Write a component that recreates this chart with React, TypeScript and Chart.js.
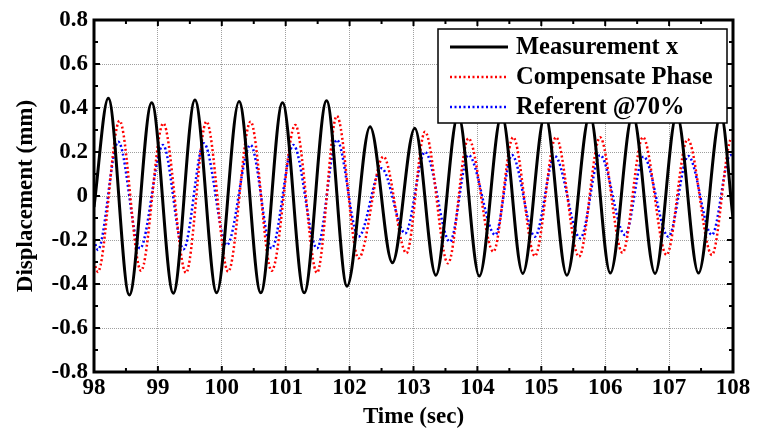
import React, { useEffect, useRef } from "react";
import { Chart, registerables } from "chart.js";

Chart.register(...registerables);

// ---- Data (extrema of each oscillation) ----
const measurementT = [98, 98.224, 98.553, 98.903, 99.241, 99.58, 99.92, 100.27, 100.61, 100.95, 101.29, 101.64, 101.96, 102.32, 102.67, 103.02, 103.35, 103.70, 104.03, 104.38, 104.71, 105.06, 105.40, 105.76, 106.08, 106.43, 106.78, 107.12, 107.46, 107.81, 108];
const measurementV = [-0.05, 0.444, -0.45, 0.424, -0.442, 0.436, -0.44, 0.43, -0.44, 0.424, -0.44, 0.433, -0.41, 0.315, -0.303, 0.308, -0.36, 0.37, -0.364, 0.37, -0.352, 0.37, -0.36, 0.37, -0.35, 0.37, -0.352, 0.37, -0.35, 0.37, -0.1];

const compensateT = [98, 98.06, 98.40, 98.735, 99.085, 99.44, 99.76, 100.10, 100.45, 100.78, 101.15, 101.49, 101.80, 102.14, 102.53, 102.89, 103.18, 103.54, 103.86, 104.25, 104.56, 104.90, 105.23, 105.59, 105.92, 106.27, 106.59, 106.96, 107.29, 107.67, 107.98, 108];
const compensateV = [-0.30, -0.345, 0.342, -0.34, 0.33, -0.349, 0.338, -0.344, 0.338, -0.34, 0.323, -0.349, 0.364, -0.283, 0.179, -0.26, 0.292, -0.306, 0.262, -0.253, 0.267, -0.273, 0.267, -0.276, 0.267, -0.258, 0.267, -0.268, 0.258, -0.268, 0.262, 0.26];

const referentT = [98, 98.06, 98.38, 98.72, 99.08, 99.40, 99.72, 100.08, 100.45, 100.78, 101.12, 101.49, 101.80, 102.14, 102.50, 102.87, 103.18, 103.57, 103.86, 104.28, 104.54, 104.90, 105.21, 105.61, 105.92, 106.31, 106.60, 106.99, 107.30, 107.67, 107.96, 108];
const referentV = [-0.20, -0.245, 0.247, -0.238, 0.232, -0.242, 0.24, -0.223, 0.232, -0.238, 0.232, -0.238, 0.255, -0.185, 0.126, -0.17, 0.2, -0.208, 0.186, -0.177, 0.186, -0.185, 0.182, -0.192, 0.186, -0.177, 0.179, -0.185, 0.182, -0.177, 0.186, 0.18];

const seriesLabels = ["Measurement x", "Compensate Phase", "Referent @70%"];
const xTicks = [98, 99, 100, 101, 102, 103, 104, 105, 106, 107, 108];
const yTicks = [-0.8, -0.6, -0.4, -0.2, 0, 0.2, 0.4, 0.6, 0.8];
const xMinorTicks = [98.5, 99.5, 100.5, 101.5, 102.5, 103.5, 104.5, 105.5, 106.5, 107.5];
const yMinorTicks = [-0.7, -0.5, -0.3, -0.1, 0.1, 0.3, 0.5, 0.7];
const xTitle = "Time (sec)";
const yTitle = "Displacement (mm)";

const FONT = "'Liberation Serif', 'Times New Roman', serif";

const toPts = (t: number[], v: number[]) => t.map((x, i) => ({ x, y: v[i] }));

const framePlugin = {
  id: "frame",
  afterDatasetsDraw(chart: any) {
    const { ctx, chartArea: a, scales } = chart;
    const xs = scales.x, ys = scales.y;
    ctx.save();
    ctx.strokeStyle = "#000";
    ctx.lineWidth = 2;
    const tick = (vals: number[], len: number) => {
      vals.forEach((v) => {
        const px = xs.getPixelForValue(v);
        ctx.beginPath();
        ctx.moveTo(px, a.bottom); ctx.lineTo(px, a.bottom - len);
        ctx.moveTo(px, a.top); ctx.lineTo(px, a.top + len);
        ctx.stroke();
      });
    };
    const tickY = (vals: number[], len: number) => {
      vals.forEach((v) => {
        const py = ys.getPixelForValue(v);
        ctx.beginPath();
        ctx.moveTo(a.left, py); ctx.lineTo(a.left + len, py);
        ctx.moveTo(a.right, py); ctx.lineTo(a.right - len, py);
        ctx.stroke();
      });
    };
    tick(xTicks, 6); tick(xMinorTicks, 4);
    tickY(yTicks, 6); tickY(yMinorTicks, 4);
    ctx.lineWidth = 3;
    ctx.strokeRect(a.left, a.top, a.right - a.left, a.bottom - a.top);

    // legend box
    const bx = 438, by = 29, bw = 289, bh = 94;
    ctx.fillStyle = "#fff";
    ctx.fillRect(bx, by, bw, bh);
    ctx.lineWidth = 1.5;
    ctx.strokeRect(bx, by, bw, bh);
    ctx.font = `bold 24.5px ${FONT}`;
    ctx.textBaseline = "middle";
    ctx.textAlign = "left";
    chart.data.datasets.forEach((ds: any, i: number) => {
      const cy = by + 18 + i * 30;
      ctx.beginPath();
      ctx.strokeStyle = ds.borderColor;
      ctx.lineWidth = ds.borderWidth;
      ctx.setLineDash(ds.borderDash || []);
      ctx.moveTo(450, cy); ctx.lineTo(508, cy);
      ctx.stroke();
      ctx.setLineDash([]);
      ctx.fillStyle = "#000";
      ctx.fillText(ds.label, 516, cy + 1);
    });
    ctx.restore();
  },
};

export default function App() {
  const ref = useRef<HTMLCanvasElement | null>(null);
  useEffect(() => {
    document.body.style.margin = "0";
    const chart = new Chart(ref.current as HTMLCanvasElement, {
      type: "line",
      data: {
        datasets: [
          { label: seriesLabels[0], data: toPts(measurementT, measurementV), borderColor: "#000000", borderWidth: 3, cubicInterpolationMode: "monotone", pointRadius: 0 },
          { label: seriesLabels[1], data: toPts(compensateT, compensateV), borderColor: "#ff0000", borderWidth: 2.5, borderDash: [2, 2.5], cubicInterpolationMode: "monotone", pointRadius: 0 },
          { label: seriesLabels[2], data: toPts(referentT, referentV), borderColor: "#0000ff", borderWidth: 2.5, borderDash: [2, 2.5], cubicInterpolationMode: "monotone", pointRadius: 0 },
        ] as any,
      },
      options: {
        animation: false,
        responsive: false,
        devicePixelRatio: 1,
        layout: { padding: { left: 0, top: 20, right: 24, bottom: 0 } },
        plugins: { legend: { display: false }, tooltip: { enabled: false } },
        scales: {
          x: {
            type: "linear",
            min: 98,
            max: 108,
            afterBuildTicks: (s: any) => { s.ticks = xTicks.map((v) => ({ value: v })); },
            afterFit: (s: any) => { s.height = 60; s.paddingLeft = 0; s.paddingRight = 0; },
            ticks: { color: "#000", font: { family: FONT, size: 23, weight: "bold" }, padding: 2, maxRotation: 0, autoSkip: false, callback: (v: any) => String(v) },
            grid: { color: "#a0a0a0", lineWidth: 1, drawTicks: false } as any,
            border: { display: false, dash: [1, 1] } as any,
            title: { display: true, text: xTitle, color: "#000", font: { family: FONT, size: 23, weight: "bold" }, padding: { top: 0, bottom: 1 } },
          },
          y: {
            type: "linear",
            min: -0.8,
            max: 0.8,
            afterBuildTicks: (s: any) => { s.ticks = yTicks.map((v) => ({ value: v })); },
            afterFit: (s: any) => { s.width = 94; s.paddingTop = 0; s.paddingBottom = 0; },
            ticks: { color: "#000", font: { family: FONT, size: 23, weight: "bold" }, padding: 6, autoSkip: false, callback: (v: any) => (Math.abs(v) < 1e-9 ? "0" : String(Math.round(v * 10) / 10)) },
            grid: { color: "#a0a0a0", lineWidth: 1, drawTicks: false } as any,
            border: { display: false, dash: [1, 1] } as any,
            title: { display: true, text: yTitle, color: "#000", font: { family: FONT, size: 23, weight: "bold" }, padding: { top: 12, bottom: 0 } },
          },
        },
      } as any,
      plugins: [framePlugin],
    });
    return () => chart.destroy();
  }, []);
  return <canvas ref={ref} width={757} height={432} style={{ display: "block", width: 757, height: 432 }} />;
}
